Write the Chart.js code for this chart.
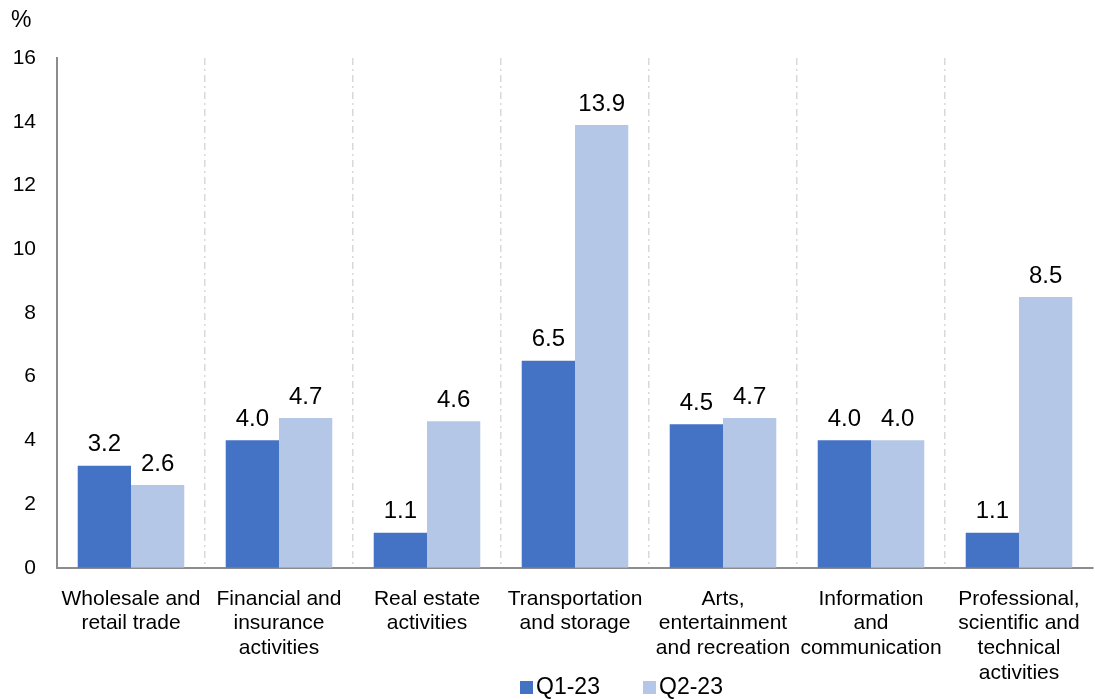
<!DOCTYPE html>
<html>
<head>
<meta charset="utf-8">
<script src="https://cdn.jsdelivr.net/npm/chart.js@4.4.0/dist/chart.umd.min.js"></script>
<style>
    html, body { margin: 0; padding: 0; background: #fff; }
    #wrap { width: 1095px; height: 699px; }
</style>
</head>
<body>
<div id="wrap"><canvas id="sectorChart"></canvas></div>
<script>
// chart data
const categories = [
    ['Wholesale and', 'retail trade'],
    ['Financial and', 'insurance', 'activities'],
    ['Real estate', 'activities'],
    ['Transportation', 'and storage'],
    ['Arts,', 'entertainment', 'and recreation'],
    ['Information', 'and', 'communication'],
    ['Professional,', 'scientific and', 'technical', 'activities']
];
const q1Values = [3.2, 4.0, 1.1, 6.5, 4.5, 4.0, 1.1];
const q2Values = [2.6, 4.7, 4.6, 13.9, 4.7, 4.0, 8.5];
const seriesNames = ['Q1-23', 'Q2-23'];
const yTicks = [0, 2, 4, 6, 8, 10, 12, 14, 16];
const unitLabel = '%';

const FONT = "'Liberation Sans', Arial, sans-serif";

// value labels above each bar
const valueLabels = {
    id: 'valueLabels',
    afterDatasetsDraw(chart) {
        const ctx = chart.ctx;
        ctx.save();
        ctx.font = '24px ' + FONT;
        ctx.fillStyle = '#000';
        ctx.textAlign = 'center';
        ctx.textBaseline = 'bottom';
        chart.data.datasets.forEach((ds, i) => {
            chart.getDatasetMeta(i).data.forEach((bar, j) => {
                ctx.fillText(ds.data[j].toFixed(1), bar.x, bar.y - 9);
            });
        });
        ctx.restore();
    }
};

// "%" unit + legend under the axis labels
const extras = {
    id: 'extras',
    afterDraw(chart) {
        const ctx = chart.ctx;
        ctx.save();
        ctx.fillStyle = '#000';
        ctx.font = '23px ' + FONT;
        ctx.textBaseline = 'middle';
        ctx.textAlign = 'left';
        ctx.fillText(unitLabel, 11, 21);

        // legend
        let x = 520;
        const y = 688;
        ctx.font = '23px ' + FONT;
        chart.data.datasets.forEach(ds => {
            ctx.fillStyle = ds.backgroundColor;
            ctx.fillRect(x, y - 7, 13, 13);
            ctx.fillStyle = '#000';
            ctx.fillText(ds.label, x + 16, y);
            x += 123;
        });
        ctx.restore();
    }
};

new Chart(document.getElementById('sectorChart'), {
    type: 'bar',
    data: {
        labels: categories,
        datasets: [
            {
                label: seriesNames[0],
                data: q1Values,
                backgroundColor: '#4472C4',
                categoryPercentage: 0.72,
                barPercentage: 1.0
            },
            {
                label: seriesNames[1],
                data: q2Values,
                backgroundColor: '#B4C7E7',
                categoryPercentage: 0.72,
                barPercentage: 1.0
            }
        ]
    },
    options: {
        responsive: true,
        maintainAspectRatio: false,
        animation: false,
        layout: {
            padding: { top: 58, right: 2, bottom: 0, left: 12 }
        },
        plugins: {
            legend: { display: false },
            tooltip: { enabled: false }
        },
        scales: {
            x: {
                afterFit: (scale) => {
                    // labels may spill past the plot edges, as in the original
                    scale.paddingLeft = 0;
                    scale.paddingRight = 0;
                    scale.height -= 5;
                },
                grid: {
                    display: true,
                    drawTicks: false,
                    lineWidth: 1.5,
                    color: (c) => (c.index === undefined || c.index === 0) ? 'rgba(0,0,0,0)' : '#d9d9d9'
                },
                border: {
                    display: true,
                    color: '#8c8c8c',
                    width: 2,
                    dash: [7, 4, 2, 4]
                },
                ticks: {
                    color: '#000',
                    font: { family: FONT, size: 21, lineHeight: 1.17 },
                    padding: 19,
                    maxRotation: 0,
                    autoSkip: false
                }
            },
            y: {
                min: 0,
                max: 16,
                afterBuildTicks: (scale) => {
                    scale.ticks = yTicks.map(v => ({ value: v }));
                },
                afterFit: (scale) => {
                    scale.width = 45;
                },
                grid: { display: false, drawTicks: false },
                border: { display: true, color: '#8c8c8c', width: 2 },
                ticks: {
                    color: '#000',
                    font: { family: FONT, size: 21 },
                    padding: 21
                }
            }
        }
    },
    plugins: [valueLabels, extras]
});
</script>
</body>
</html>
